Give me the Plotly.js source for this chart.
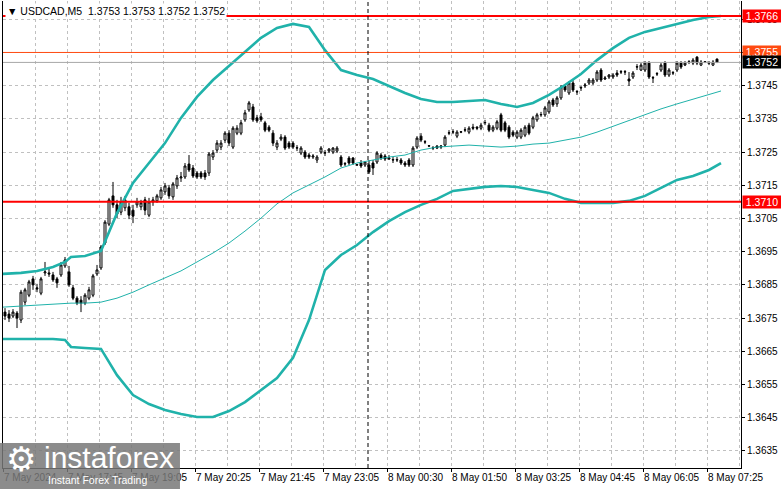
<!DOCTYPE html>
<html><head><meta charset="utf-8">
<script src="https://cdn.plot.ly/plotly-3.0.1.min.js"></script>
<style>html,body{margin:0;padding:0;background:#fff;}#chart{width:781px;height:489px;}</style>
</head><body><div id="chart"></div>
<script>
// ---- DATA (USDCAD, M5) ----
const openP = [
1.36768,1.36762,1.36756,1.36765,1.36744,1.36798,1.36819,1.36868,1.36841,1.36825,
1.36886,1.36886,1.36880,1.36868,1.36880,1.36907,1.36889,1.36841,1.36810,1.36804,
1.36795,1.36810,1.36819,1.36883,1.36901,1.36976,1.37033,1.37118,1.37091,1.37069,
1.37082,1.37085,1.37075,1.37091,1.37085,1.37106,1.37060,1.37100,1.37103,1.37112,
1.37130,1.37142,1.37115,1.37148,1.37172,1.37175,1.37214,1.37202,1.37187,1.37187,
1.37187,1.37187,1.37235,1.37256,1.37265,1.37286,1.37307,1.37265,1.37307,1.37307,
1.37347,1.37377,1.37386,1.37353,1.37356,1.37338,1.37325,1.37307,1.37265,1.37289,
1.37295,1.37277,1.37277,1.37262,1.37247,1.37250,1.37241,1.37235,1.37226,1.37250,
1.37247,1.37253,1.37250,1.37253,1.37235,1.37214,1.37232,1.37232,1.37211,1.37217,
1.37211,1.37211,1.37217,1.37220,1.37241,1.37238,1.37229,1.37226,1.37226,1.37226,
1.37217,1.37226,1.37211,1.37265,1.37298,1.37280,1.37268,1.37262,1.37268,1.37265,
1.37271,1.37307,1.37310,1.37298,1.37310,1.37316,1.37310,1.37325,1.37325,1.37322,
1.37338,1.37331,1.37316,1.37322,1.37362,1.37338,1.37325,1.37310,1.37295,1.37295,
1.37301,1.37331,1.37325,1.37347,1.37362,1.37362,1.37371,1.37407,1.37395,1.37413,
1.37449,1.37428,1.37458,1.37431,1.37443,1.37449,1.37458,1.37458,1.37467,1.37497,
1.37470,1.37476,1.37476,1.37488,1.37491,1.37491,1.37470,1.37476,1.37506,1.37497,
1.37497,1.37518,1.37473,1.37485,1.37497,1.37518,1.37482,1.37488,1.37497,1.37518,
1.37512,1.37521,1.37518,1.37536,1.37512,1.37521,1.37518,1.37512,1.37530];
const highP = [
1.36780,1.36774,1.36777,1.36771,1.36835,1.36841,1.36865,1.36877,1.36853,1.36874,
1.36919,1.36901,1.36889,1.36874,1.36919,1.36934,1.36907,1.36850,1.36816,1.36816,
1.36825,1.36844,1.36883,1.36910,1.36970,1.37045,1.37112,1.37160,1.37106,1.37115,
1.37118,1.37097,1.37091,1.37112,1.37106,1.37115,1.37112,1.37115,1.37124,1.37145,
1.37157,1.37151,1.37160,1.37181,1.37190,1.37217,1.37241,1.37211,1.37193,1.37193,
1.37196,1.37250,1.37256,1.37286,1.37286,1.37313,1.37316,1.37328,1.37331,1.37347,
1.37377,1.37404,1.37395,1.37362,1.37368,1.37344,1.37331,1.37316,1.37286,1.37304,
1.37301,1.37283,1.37283,1.37271,1.37268,1.37256,1.37247,1.37244,1.37241,1.37268,
1.37256,1.37262,1.37265,1.37268,1.37241,1.37220,1.37238,1.37235,1.37214,1.37226,
1.37223,1.37226,1.37226,1.37253,1.37247,1.37244,1.37241,1.37235,1.37235,1.37232,
1.37223,1.37232,1.37268,1.37298,1.37307,1.37286,1.37271,1.37268,1.37271,1.37271,
1.37301,1.37316,1.37319,1.37316,1.37313,1.37325,1.37328,1.37335,1.37328,1.37338,
1.37347,1.37338,1.37331,1.37347,1.37368,1.37344,1.37331,1.37316,1.37316,1.37322,
1.37331,1.37338,1.37359,1.37368,1.37371,1.37389,1.37407,1.37413,1.37419,1.37452,
1.37455,1.37464,1.37467,1.37437,1.37449,1.37458,1.37473,1.37473,1.37497,1.37503,
1.37479,1.37485,1.37488,1.37497,1.37497,1.37497,1.37491,1.37494,1.37515,1.37518,
1.37524,1.37524,1.37479,1.37491,1.37518,1.37524,1.37503,1.37494,1.37524,1.37524,
1.37524,1.37527,1.37533,1.37539,1.37527,1.37524,1.37524,1.37527,1.37532];
const lowP = [
1.36744,1.36738,1.36750,1.36720,1.36735,1.36789,1.36813,1.36835,1.36828,1.36819,
1.36877,1.36874,1.36859,1.36841,1.36874,1.36901,1.36844,1.36804,1.36789,1.36768,
1.36789,1.36804,1.36813,1.36877,1.36895,1.36970,1.37027,1.37082,1.37051,1.37060,
1.37072,1.37048,1.37036,1.37082,1.37075,1.37060,1.37054,1.37088,1.37097,1.37106,
1.37121,1.37109,1.37106,1.37139,1.37160,1.37169,1.37190,1.37172,1.37169,1.37169,
1.37166,1.37178,1.37226,1.37247,1.37256,1.37277,1.37268,1.37259,1.37301,1.37301,
1.37341,1.37371,1.37341,1.37338,1.37341,1.37310,1.37310,1.37268,1.37256,1.37283,
1.37256,1.37259,1.37259,1.37253,1.37241,1.37229,1.37229,1.37229,1.37217,1.37244,
1.37238,1.37247,1.37244,1.37247,1.37205,1.37208,1.37211,1.37211,1.37208,1.37202,
1.37205,1.37184,1.37181,1.37214,1.37226,1.37223,1.37226,1.37217,1.37220,1.37211,
1.37205,1.37205,1.37205,1.37259,1.37280,1.37274,1.37265,1.37256,1.37259,1.37259,
1.37265,1.37301,1.37304,1.37292,1.37307,1.37310,1.37304,1.37316,1.37316,1.37316,
1.37331,1.37310,1.37310,1.37316,1.37310,1.37310,1.37289,1.37295,1.37289,1.37289,
1.37295,1.37301,1.37319,1.37341,1.37356,1.37356,1.37365,1.37386,1.37386,1.37407,
1.37431,1.37422,1.37431,1.37422,1.37434,1.37443,1.37452,1.37452,1.37461,1.37461,
1.37467,1.37470,1.37470,1.37476,1.37485,1.37482,1.37449,1.37470,1.37497,1.37494,
1.37491,1.37470,1.37458,1.37479,1.37491,1.37476,1.37476,1.37482,1.37491,1.37500,
1.37509,1.37515,1.37512,1.37512,1.37509,1.37518,1.37512,1.37509,1.37518];
const closeP = [
1.36756,1.36750,1.36768,1.36750,1.36828,1.36835,1.36859,1.36850,1.36838,1.36868,
1.36889,1.36883,1.36865,1.36856,1.36910,1.36925,1.36850,1.36810,1.36795,1.36795,
1.36819,1.36835,1.36877,1.36895,1.36964,1.37039,1.37106,1.37091,1.37063,1.37100,
1.37106,1.37060,1.37057,1.37100,1.37097,1.37075,1.37100,1.37106,1.37118,1.37136,
1.37148,1.37118,1.37154,1.37172,1.37175,1.37208,1.37196,1.37178,1.37175,1.37175,
1.37175,1.37244,1.37247,1.37277,1.37277,1.37307,1.37277,1.37322,1.37322,1.37338,
1.37368,1.37398,1.37347,1.37344,1.37347,1.37316,1.37316,1.37277,1.37277,1.37295,
1.37262,1.37265,1.37265,1.37263,1.37262,1.37235,1.37235,1.37238,1.37235,1.37262,
1.37248,1.37259,1.37262,1.37262,1.37211,1.37215,1.37217,1.37217,1.37212,1.37208,
1.37220,1.37190,1.37202,1.37247,1.37232,1.37229,1.37232,1.37227,1.37227,1.37217,
1.37211,1.37211,1.37262,1.37292,1.37286,1.37281,1.37269,1.37263,1.37262,1.37268,
1.37295,1.37308,1.37311,1.37310,1.37311,1.37317,1.37322,1.37322,1.37322,1.37331,
1.37339,1.37316,1.37325,1.37341,1.37316,1.37316,1.37295,1.37301,1.37310,1.37316,
1.37325,1.37307,1.37353,1.37362,1.37363,1.37383,1.37401,1.37392,1.37413,1.37446,
1.37437,1.37458,1.37437,1.37432,1.37444,1.37452,1.37467,1.37467,1.37491,1.37467,
1.37473,1.37482,1.37482,1.37482,1.37492,1.37492,1.37464,1.37488,1.37507,1.37512,
1.37518,1.37476,1.37474,1.37486,1.37512,1.37482,1.37497,1.37489,1.37518,1.37506,
1.37518,1.37522,1.37527,1.37518,1.37521,1.37522,1.37519,1.37521,1.37520];

// Bollinger bands, sampled at bar indices
const bandIdx = [-0.5,4,8,12,15,16.5,20,24,28,32,36,40,44,48,52,56,60,64,68,72,76,80,84,88,92,96,100,104,108,112,116,120,124,128,132,136,140,144,148,152,156,160,164,168,172,176,179];
const bandUpper = [1.36883,1.36886,1.36892,1.36904,1.36919,1.36934,1.36937,1.36952,1.37066,1.37157,1.37217,1.37277,1.37353,1.37416,1.37467,1.37509,1.37551,1.37594,1.37624,1.37636,1.37627,1.37557,1.37497,1.37482,1.37470,1.37449,1.37428,1.37410,1.37401,1.37401,1.37404,1.37407,1.37395,1.37386,1.37398,1.37422,1.37452,1.37485,1.37527,1.37563,1.37594,1.37612,1.37624,1.37636,1.37648,1.37657,1.37660];
const bandMiddle = [1.36783,1.36786,1.36789,1.36792,1.36795,1.36795,1.36795,1.36798,1.36810,1.36828,1.36850,1.36871,1.36892,1.36919,1.36946,1.36976,1.37012,1.37051,1.37094,1.37127,1.37151,1.37175,1.37202,1.37217,1.37226,1.37235,1.37241,1.37256,1.37265,1.37268,1.37271,1.37268,1.37265,1.37268,1.37274,1.37277,1.37286,1.37295,1.37310,1.37328,1.37344,1.37362,1.37380,1.37395,1.37410,1.37425,1.37434];
const bandLower = [1.36687,1.36687,1.36687,1.36687,1.36684,1.36663,1.36660,1.36657,1.36578,1.36518,1.36491,1.36473,1.36461,1.36452,1.36452,1.36470,1.36497,1.36533,1.36569,1.36630,1.36744,1.36895,1.36940,1.36970,1.37009,1.37042,1.37069,1.37091,1.37109,1.37133,1.37139,1.37145,1.37148,1.37145,1.37136,1.37127,1.37109,1.37097,1.37097,1.37097,1.37103,1.37118,1.37142,1.37166,1.37178,1.37196,1.37217];

const timeLabels = ["7 May 2024","7 May 17:45","7 May 19:05","7 May 20:25","7 May 21:45","7 May 23:05","8 May 00:30","8 May 01:50","8 May 03:25","8 May 04:45","8 May 06:05","8 May 07:25"];
const redLevels = [1.3766, 1.3710];
const askLevel = 1.3755;
const bidLevel = 1.3752;
const headerText = "USDCAD,M5\u00a0\u00a01.3753 1.3753 1.3752 1.3752";

// ---- CHART ----
const barIdx = openP.map((_, i) => i);
const barsPerLabel = 16;
const tickvals = timeLabels.map((_, k) => -0.5 + barsPerLabel * k);
const teal = '#20B2AA';
const gridCol = '#c0c0c0';

const traces = [
  {type:'candlestick', x: barIdx, open: openP, high: highP, low: lowP, close: closeP,
   increasing:{line:{color:'#000', width:1}, fillcolor:'#ffffff'},
   decreasing:{line:{color:'#000', width:1}, fillcolor:'#000000'},
   whiskerwidth: 0, hoverinfo:'skip', showlegend:false},
  {type:'scatter', mode:'lines', x: bandIdx, y: bandMiddle, line:{color:teal, width:1}, hoverinfo:'skip'},
  {type:'scatter', mode:'lines', x: bandIdx, y: bandUpper, line:{color:teal, width:2.6}, hoverinfo:'skip'},
  {type:'scatter', mode:'lines', x: bandIdx, y: bandLower, line:{color:teal, width:2.6}, hoverinfo:'skip'}
];

const shapes = [];
redLevels.forEach(v => shapes.push({type:'line', xref:'paper', x0:0, x1:1, yref:'y', y0:v, y1:v, line:{color:'#ff0000', width:2}}));
shapes.push({type:'line', xref:'paper', x0:0, x1:1, yref:'y', y0:askLevel, y1:askLevel, line:{color:'#ff4a10', width:1}});
shapes.push({type:'line', xref:'paper', x0:0, x1:1, yref:'y', y0:bidLevel, y1:bidLevel, line:{color:'#a8a8a8', width:1}});
shapes.push({type:'line', xref:'x', x0:90.75, x1:90.75, yref:'paper', y0:0, y1:1, line:{color:'#000', width:1, dash:'4px,3px'}});
// logo panel
shapes.push({type:'rect', xref:'paper', yref:'paper', x0:-0.0041, x1:0.2398, y0:-0.045, y1:0.0535, fillcolor:'rgba(120,120,120,0.85)', line:{width:0}, layer:'above'});

function priceBox(v, bg) {
  return {xref:'paper', x:1, xanchor:'left', xshift:1, yref:'y', y:v, yanchor:'middle',
    text: v.toFixed(4), showarrow:false, bgcolor:bg, width:38, height:12, borderpad:0,
    font:{family:'Liberation Sans, Arial, sans-serif', size:10.5, color:'#fff'}, align:'center'};
}

const annotations = [
  {xref:'paper', x:0, xanchor:'left', xshift:2, yref:'paper', y:1, yanchor:'top', yshift:-2,
   text:'\u25BC ' + headerText, showarrow:false, bgcolor:'#ffffff', borderpad:1,
   font:{family:'Liberation Sans, Arial, sans-serif', size:10.5, color:'#000'}},
  priceBox(redLevels[0], '#ff0000'),
  priceBox(askLevel, '#ff4a10'),
  priceBox(bidLevel, '#000000'),
  priceBox(redLevels[1], '#ff0000'),
  {xref:'paper', x:0.0015, xanchor:'left', yref:'paper', y:0.0193, yanchor:'middle', text:'\u2699', showarrow:false,
   font:{family:'DejaVu Sans', size:34, color:'#ffffff'}},
  {xref:'paper', x:0.0528, xanchor:'left', yref:'paper', y:0.0215, yanchor:'middle', text:'instaforex', showarrow:false,
   font:{family:'Liberation Sans, Arial, sans-serif', size:30, color:'#ffffff'}},
  {xref:'paper', x:0.058, xanchor:'left', yref:'paper', y:-0.0257, yanchor:'middle', text:'Instant Forex Trading', showarrow:false,
   font:{family:'Liberation Sans, Arial, sans-serif', size:10.5, color:'#ffffff'}}
];

const layout = {
  width: 781, height: 489,
  margin: {l: 3, r: 40, t: 1, b: 21, pad: 0},
  paper_bgcolor: '#ffffff', plot_bgcolor: '#ffffff',
  showlegend: false,
  font: {family: 'Liberation Sans, Arial, sans-serif', size: 10, color: '#000'},
  xaxis: {
    range: [-0.5, 184], tickmode: 'array', tickvals: tickvals, ticktext: timeLabels,
    tickangle: 0, ticklabelposition: 'outside right', ticks: 'outside', ticklen: 3, tickcolor: '#000',
    tickfont: {family: 'Liberation Sans, Arial, sans-serif', size: 10, color: '#000'},
    showgrid: true, gridcolor: gridCol, griddash: '3px,3px', gridwidth: 1,
    minor: {tickmode: 'linear', tick0: -0.5, dtick: 8, showgrid: true, gridcolor: gridCol, griddash: '3px,3px', ticks: ''},
    showline: true, linecolor: '#000', linewidth: 1, zeroline: false,
    rangeslider: {visible: false}, fixedrange: true
  },
  yaxis: {
    side: 'right', range: [1.362984, 1.37705], tickmode: 'linear', tick0: 1.3635, dtick: 0.001, tickformat: '.4f',
    ticks: 'outside', ticklen: 3, tickcolor: '#000',
    showgrid: true, gridcolor: gridCol, griddash: '3px,3px', gridwidth: 1,
    showline: true, linecolor: '#000', linewidth: 1, mirror: true, zeroline: false, fixedrange: true
  },
  shapes: shapes,
  annotations: annotations
};

Plotly.newPlot('chart', traces, layout, {staticPlot: true, displayModeBar: false});
</script>
</body></html>
